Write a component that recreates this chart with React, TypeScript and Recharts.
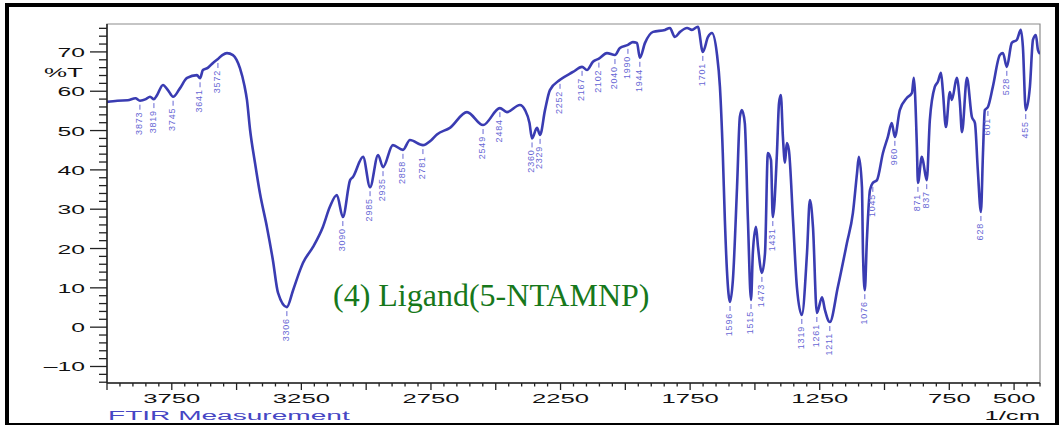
import React from 'react';
import { ComposedChart, Line, XAxis, YAxis, ReferenceArea } from 'recharts';

// FTIR spectrum of the ligand, wavenumber (1/cm) vs transmittance (%T)
const wavenumbers = [
  4000, 3960, 3920, 3890, 3873, 3850, 3834, 3819, 3807, 3784, 3765, 3745, 3720, 3691, 3653, 3641,
  3630, 3610, 3591, 3572, 3555, 3537, 3514, 3500, 3487, 3470, 3460, 3448, 3429, 3410, 3383, 3360,
  3340, 3306, 3282, 3255, 3244, 3205, 3167, 3140, 3113, 3090, 3062, 3051, 3012, 2985, 2954, 2935,
  2897, 2858, 2831, 2781, 2750, 2727, 2677, 2611, 2549, 2484, 2457, 2407, 2387, 2370, 2360, 2341,
  2329, 2310, 2291, 2252, 2202, 2167, 2148, 2125, 2102, 2071, 2040, 2021, 1990, 1971, 1955, 1944,
  1924, 1893, 1847, 1828, 1809, 1789, 1762, 1743, 1720, 1701, 1681, 1666, 1647, 1635, 1624, 1616,
  1608, 1596, 1585, 1569, 1558, 1550, 1539, 1527, 1515, 1508, 1496, 1488, 1473, 1461, 1450, 1438,
  1431, 1415, 1407, 1400, 1392, 1384, 1377, 1369, 1353, 1338, 1319, 1299, 1288, 1276, 1261, 1241,
  1230, 1211, 1180, 1145, 1122, 1106, 1099, 1087, 1083, 1076, 1068, 1056, 1045, 1029, 1006, 987,
  972, 960, 941, 914, 894, 887, 875, 871, 856, 852, 837, 825, 806, 794, 782, 775,
  763, 748, 740, 721, 709, 701, 682, 663, 651, 640, 628, 620, 613, 601, 582, 555,
  543, 528, 509, 489, 474, 466, 455, 439, 427, 416, 408, 400,
];

const transmittance = [
  57.3, 57.6, 57.7, 58.2, 57.6, 58.0, 58.6, 58.0, 59.0, 61.6, 60.3, 58.6, 60.6, 63.4, 64.1, 63.3,
  65.4, 66.0, 67.2, 68.2, 69.2, 69.7, 69.2, 68.0, 65.9, 61.5, 57.8, 50.2, 41.8, 34.1, 25.5, 17.1,
  8.7, 5.1, 9.4, 14.5, 16.3, 20.4, 25.5, 30.6, 33.6, 28.0, 37.4, 38.2, 43.3, 35.6, 43.8, 40.7,
  46.3, 45.1, 47.6, 46.3, 47.5, 49.0, 50.7, 54.7, 51.4, 55.7, 54.7, 56.5, 55.2, 52.0, 48.0, 50.7,
  48.9, 55.2, 60.3, 62.9, 64.9, 66.2, 65.4, 67.5, 68.3, 69.7, 69.2, 71.0, 71.8, 72.5, 72.3, 68.5,
  72.3, 75.1, 75.6, 76.1, 73.8, 75.1, 76.1, 75.6, 76.4, 70.0, 73.8, 74.8, 69.7, 61.1, 44.3, 27.3,
  14.5, 6.4, 12.0, 35.6, 53.5, 55.2, 51.9, 27.3, 6.9, 18.9, 25.5, 20.4, 13.8, 18.9, 44.3, 42.5,
  28.0, 44.3, 57.0, 59.0, 48.4, 41.8, 46.8, 45.1, 27.3, 10.2, 3.1, 18.9, 32.3, 25.5, 3.6, 7.6,
  4.4, 1.3, 10.2, 21.4, 29.0, 39.2, 43.3, 35.6, 18.9, 9.4, 22.2, 34.9, 36.7, 37.4, 44.3, 48.4,
  51.9, 48.4, 55.2, 58.3, 59.6, 63.4, 45.8, 36.7, 43.3, 42.5, 37.4, 52.7, 61.1, 62.4, 64.7, 60.3,
  50.9, 59.8, 57.8, 63.4, 57.0, 49.6, 63.4, 53.5, 51.9, 40.0, 29.3, 44.3, 55.2, 56.0, 61.1, 69.2,
  69.7, 66.2, 72.3, 73.1, 75.6, 71.3, 55.2, 61.1, 73.1, 74.3, 70.5, 69.5,
];

// bands that carry a wavenumber label
const peakWavenumbers = [
  3873, 3819, 3745, 3641, 3572, 3306, 3090, 2985, 2935, 2858, 2781, 2549, 2484, 2360, 2329,
  2252, 2167, 2102, 2040, 1990, 1944, 1701, 1596, 1515, 1473, 1431, 1319, 1261, 1211, 1076,
  1045, 960, 871, 837, 628, 601, 528, 455,
];

const xTickLabels = [3750, 3250, 2750, 2250, 1750, 1250, 750, 500];
const yTickLabels = [-10, 0, 10, 20, 30, 40, 50, 60, 70];

const X_MIN = 400;
const X_MAX = 4000;
const Y_MIN = -14.2;
const Y_MAX = 77.1;

const spectrum = wavenumbers.map((wn, i) => ({ wn, t: transmittance[i] }));
const peakSet = new Set(peakWavenumbers);

const xTicks: number[] = [];
for (let v = X_MIN; v <= X_MAX; v += 50) xTicks.push(v);
const yTicks: number[] = [];
for (let v = -14; v <= 76; v += 2) yTicks.push(v);

const LINE_COLOR = '#3a3cb2';
const PEAK_COLOR = '#6767d4';
const AXIS_COLOR = '#222';
const AXIS_FONT = 'Liberation Sans, Arial, sans-serif';

const XTick = (props: any) => {
  const { x, y, payload } = props;
  const v = payload.value;
  const major = v % 250 === 0;
  return (
    <g>
      <line x1={x} x2={x} y1={y} y2={y + (major ? 7 : 3.5)} stroke={AXIS_COLOR} strokeWidth={1.3} />
      {xTickLabels.includes(v) && (
        <text
          transform={`translate(${x},${y + 20}) scale(1.9,1)`}
          textAnchor="middle"
          fontFamily={AXIS_FONT}
          fontSize={13.5}
          fill="#111"
        >
          {v}
        </text>
      )}
    </g>
  );
};

const YTick = (props: any) => {
  const { x, y, payload } = props;
  const v = payload.value;
  const major = v % 10 === 0;
  return (
    <g>
      <line x1={x} x2={x - (major ? 17 : 8)} y1={y} y2={y} stroke={AXIS_COLOR} strokeWidth={1.3} />
      {yTickLabels.includes(v) && (
        <text
          transform={`translate(${x - 22},${y + 5}) scale(1.9,1)`}
          textAnchor="end"
          fontFamily={AXIS_FONT}
          fontSize={13}
          fill="#111"
        >
          {v < 0 ? `–${Math.abs(v)}` : v}
        </text>
      )}
    </g>
  );
};

// small tick under a band minimum with its wavenumber written vertically
const PeakDot = (props: any) => {
  const { cx, cy, payload, index } = props;
  if (!peakSet.has(payload.wn)) return <g key={`d-${index}`} />;
  return (
    <g key={`d-${index}`}>
      <line x1={cx} x2={cx} y1={cy + 4} y2={cy + 9} stroke={PEAK_COLOR} strokeWidth={1} />
      <text
        transform={`translate(${cx + 2},${cy + 11}) rotate(-90)`}
        textAnchor="end"
        fontFamily={AXIS_FONT}
        fontSize={9}
        letterSpacing={0.8}
        fill={PEAK_COLOR}
      >
        {payload.wn}
      </text>
    </g>
  );
};

export default function App() {
  return (
    <div style={{ position: 'absolute', left: 0, top: 0, width: 1062, height: 425, background: '#fff', overflow: 'hidden' }}>
      <ComposedChart
        width={1062}
        height={425}
        data={spectrum}
        margin={{ top: 24, right: 22, bottom: 12, left: 47 }}
      >
        <XAxis
          dataKey="wn"
          type="number"
          domain={[X_MIN, X_MAX]}
          reversed
          allowDataOverflow
          ticks={xTicks}
          interval={0}
          tickSize={0}
          tickMargin={0}
          tickLine={false}
          tick={XTick}
          height={30}
          axisLine={{ stroke: AXIS_COLOR, strokeWidth: 1.5 }}
        />
        <YAxis
          dataKey="t"
          type="number"
          domain={[Y_MIN, Y_MAX]}
          allowDataOverflow
          ticks={yTicks}
          interval={0}
          tickSize={0}
          tickMargin={0}
          tickLine={false}
          tick={YTick}
          width={60}
          axisLine={{ stroke: AXIS_COLOR, strokeWidth: 1.5 }}
        />
        <ReferenceArea
          x1={X_MAX}
          x2={X_MIN}
          y1={Y_MIN}
          y2={Y_MAX}
          fill="none"
          fillOpacity={0}
          stroke="#8c8c8c"
          strokeWidth={1.2}
          ifOverflow="visible"
        />
        <Line
          dataKey="t"
          type="monotone"
          stroke={LINE_COLOR}
          strokeWidth={2.6}
          dot={PeakDot}
          activeDot={false}
          isAnimationActive={false}
        />
      </ComposedChart>

      <svg width={1062} height={425} style={{ position: 'absolute', left: 0, top: 0, pointerEvents: 'none' }}>
        <rect x={7} y={5} width={1050} height={420} fill="none" stroke="#000" strokeWidth={4} />
        <text transform="translate(44,77) scale(2,1)" fontFamily={AXIS_FONT} fontSize={13} fill="#111">%T</text>
        <text transform="translate(108,420) scale(2.08,1)" fontFamily={AXIS_FONT} fontSize={13.5} fill="#4646c4">
          FTIR Measurement
        </text>
        <text transform="translate(1040,420) scale(1.9,1)" textAnchor="end" fontFamily={AXIS_FONT} fontSize={13.5} fill="#111">
          1/cm
        </text>
        <text x={333} y={306} fontFamily="Liberation Serif, Times New Roman, serif" fontSize={32} fill="#17781b">
          (4) Ligand(5-NTAMNP)
        </text>
      </svg>
    </div>
  );
}
